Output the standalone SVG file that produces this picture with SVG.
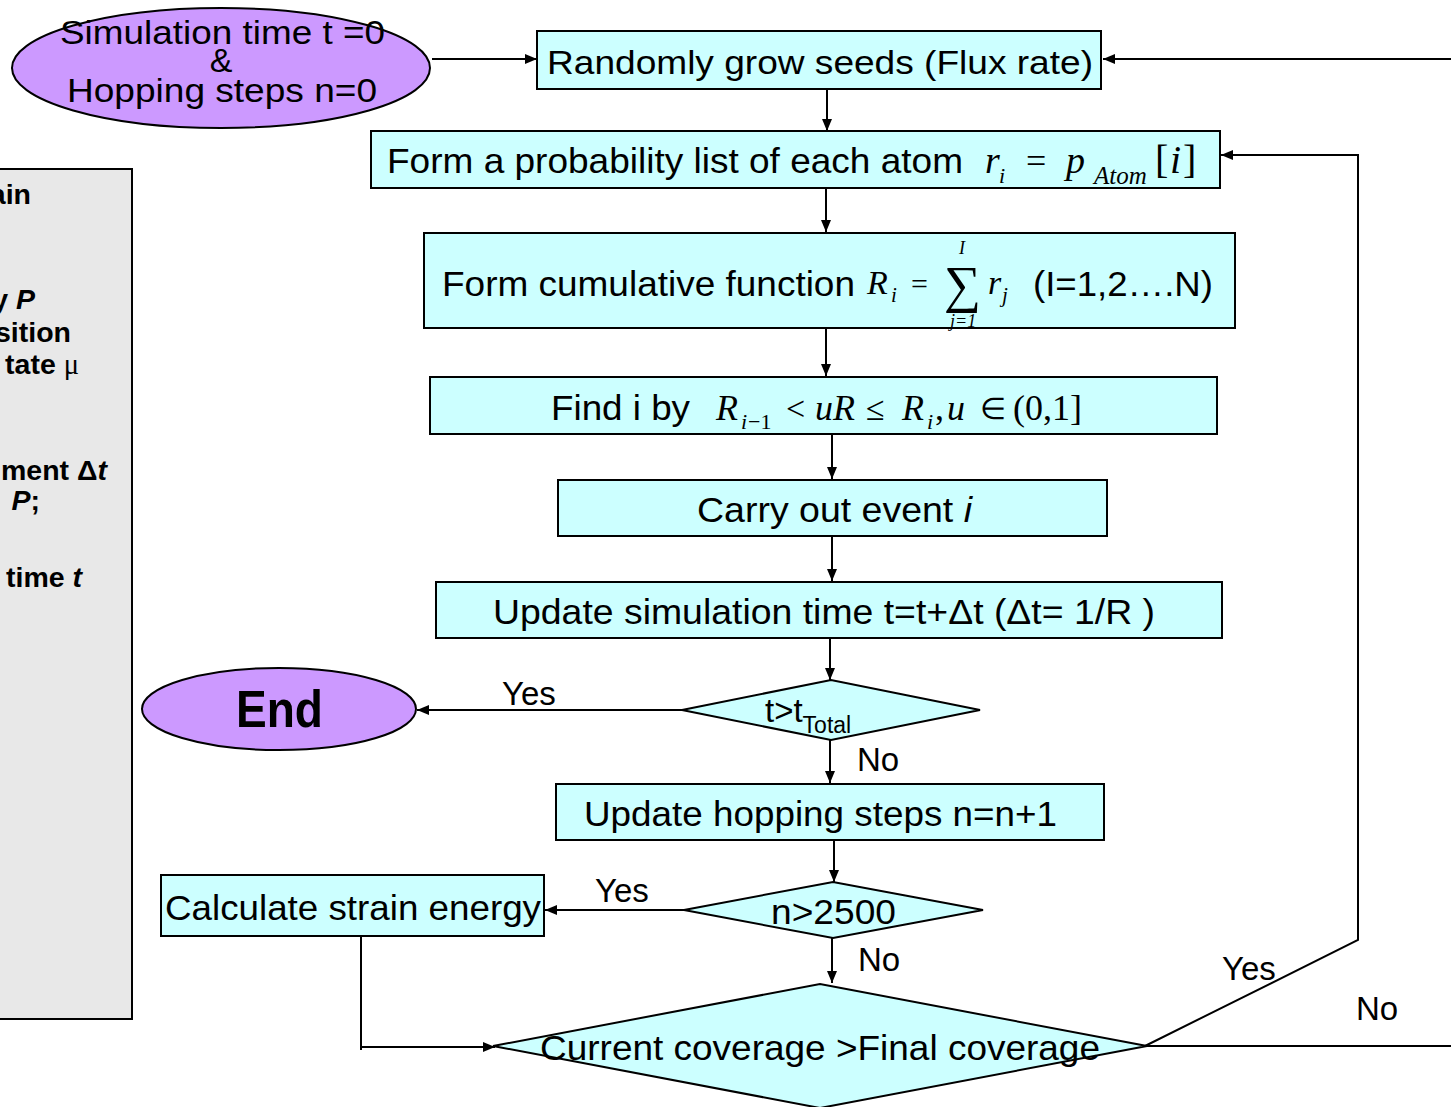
<svg xmlns="http://www.w3.org/2000/svg" width="1451" height="1107" viewBox="0 0 1451 1107">
<style>
.box{fill:#ccffff;stroke:#000;stroke-width:2}
.ell{fill:#cc99ff;stroke:#000;stroke-width:2}
.t{font-family:"Liberation Sans",Arial,sans-serif;font-size:34px;fill:#000}
.t35{font-size:35px}
.m{font-family:"Liberation Serif","Times New Roman",serif;font-style:italic;fill:#000}
.mr{font-family:"Liberation Serif","Times New Roman",serif;fill:#000}
.lbl{font-family:"Liberation Sans",Arial,sans-serif;font-size:33px;fill:#000}
.side{font-family:"Liberation Sans",Arial,sans-serif;font-size:28.5px;font-weight:bold;fill:#000}
.c{fill:none;stroke:#000;stroke-width:2}
</style>
<defs>
<marker id="ah" viewBox="0 0 12 10" refX="12" refY="5" markerWidth="12" markerHeight="10" markerUnits="userSpaceOnUse" orient="auto">
<path d="M0,0 L12,5 L0,10 Z" fill="#000"/>
</marker>
</defs>
<rect width="1451" height="1107" fill="#fff"/>

<g id="side-panel">
<rect x="-4" y="169" width="136" height="850" fill="#e8e8e8" stroke="#000" stroke-width="2"/>
<text class="side" x="31" y="204" text-anchor="end">ain</text>
<text class="side" x="35" y="309" text-anchor="end">y <tspan font-style="italic">P</tspan></text>
<text class="side" x="71" y="342" text-anchor="end">sition</text>
<text class="side" x="79" y="374" text-anchor="end">tate <tspan font-weight="normal" font-family="Liberation Serif,serif">μ</tspan></text>
<text class="side" x="107" y="480" text-anchor="end">ment Δ<tspan font-style="italic">t</tspan></text>
<text class="side" x="40" y="510" text-anchor="end"><tspan font-style="italic">P</tspan>;</text>
<text class="side" x="82" y="587" text-anchor="end">time <tspan font-style="italic">t</tspan></text>
</g>

<g id="connectors">
<line class="c" x1="432" y1="59" x2="537" y2="59" marker-end="url(#ah)"/>
<line class="c" x1="1451" y1="59" x2="1103" y2="59" marker-end="url(#ah)"/>
<line class="c" x1="827" y1="89" x2="827" y2="131" marker-end="url(#ah)"/>
<line class="c" x1="826" y1="188" x2="826" y2="232" marker-end="url(#ah)"/>
<line class="c" x1="826" y1="328" x2="826" y2="376" marker-end="url(#ah)"/>
<line class="c" x1="832" y1="434" x2="832" y2="479" marker-end="url(#ah)"/>
<line class="c" x1="832" y1="536" x2="832" y2="581" marker-end="url(#ah)"/>
<line class="c" x1="830" y1="638" x2="830" y2="680" marker-end="url(#ah)"/>
<line class="c" x1="682" y1="710" x2="417" y2="710" marker-end="url(#ah)"/>
<line class="c" x1="830" y1="740" x2="830" y2="783" marker-end="url(#ah)"/>
<line class="c" x1="834" y1="840" x2="834" y2="882" marker-end="url(#ah)"/>
<line class="c" x1="684" y1="910" x2="545" y2="910" marker-end="url(#ah)"/>
<line class="c" x1="832" y1="938" x2="832" y2="983" marker-end="url(#ah)"/>
<polyline class="c" points="361,936 361,1050"/>
<line class="c" x1="361" y1="1047" x2="495" y2="1047" marker-end="url(#ah)"/>
<polyline class="c" points="1145,1046 1358,940 1358,155 1221,155" marker-end="url(#ah)"/>
<line class="c" x1="1147" y1="1046" x2="1451" y2="1046"/>
<text class="lbl" x="502" y="705">Yes</text>
<text class="lbl" x="857" y="771">No</text>
<text class="lbl" x="595" y="902">Yes</text>
<text class="lbl" x="858" y="971">No</text>
<text class="lbl" x="1222" y="980">Yes</text>
<text class="lbl" x="1356" y="1020">No</text>
</g>

<g id="start">
<ellipse class="ell" cx="221" cy="68" rx="209" ry="60"/>
<text class="t" x="60" y="44" textLength="325" lengthAdjust="spacingAndGlyphs">Simulation time t =0</text>
<text class="t" x="221" y="72" text-anchor="middle">&amp;</text>
<text class="t" x="67" y="102" textLength="310" lengthAdjust="spacingAndGlyphs">Hopping steps n=0</text>
</g>

<g id="grow-seeds">
<rect class="box" x="537" y="31" width="564" height="58"/>
<text class="t" x="547" y="74" textLength="546" lengthAdjust="spacingAndGlyphs">Randomly grow seeds (Flux rate)</text>
</g>

<g id="prob-list">
<rect class="box" x="371" y="131" width="849" height="57"/>
<text class="t t35" x="387" y="173" textLength="576" lengthAdjust="spacingAndGlyphs">Form a probability list of each atom</text>
<text class="m" x="985" y="173" font-size="38">r</text>
<text class="m" x="999" y="183" font-size="22">i</text>
<text class="mr" x="1026" y="173" font-size="36">=</text>
<text class="m" x="1066" y="173" font-size="38">p</text>
<text class="m" x="1094" y="184" font-size="25">Atom</text>
<text class="mr" x="1155" y="173" font-size="40">[</text>
<text class="m" x="1170" y="173" font-size="40">i</text>
<text class="mr" x="1183" y="173" font-size="40">]</text>
</g>

<g id="cumulative">
<rect class="box" x="424" y="233" width="811" height="95"/>
<text class="t t35" x="442" y="296" textLength="413" lengthAdjust="spacingAndGlyphs">Form cumulative function</text>
<text class="m" x="867" y="294" font-size="34">R</text>
<text class="m" x="891" y="302" font-size="21">i</text>
<text class="mr" x="911" y="294" font-size="30">=</text>
<text class="mr" x="944" y="302" font-size="52">∑</text>
<text class="m" x="959" y="254" font-size="18">I</text>
<text class="m" x="950" y="327" font-size="18">j=1</text>
<text class="m" x="988" y="294" font-size="34">r</text>
<text class="m" x="1002" y="302" font-size="21">j</text>
<text class="t t35" x="1033" y="296" textLength="180" lengthAdjust="spacingAndGlyphs">(I=1,2….N)</text>
</g>

<g id="find-i">
<rect class="box" x="430" y="377" width="787" height="57"/>
<text class="t t35" x="551" y="420" textLength="139" lengthAdjust="spacingAndGlyphs">Find i by</text>
<text class="m" x="716" y="420" font-size="36">R</text>
<text class="m" x="741" y="429" font-size="22">i</text>
<text class="mr" x="748" y="429" font-size="22">−1</text>
<text class="mr" x="786" y="420" font-size="34">&lt;</text>
<text class="m" x="815" y="420" font-size="36">uR</text>
<text class="mr" x="866" y="420" font-size="34">≤</text>
<text class="m" x="902" y="420" font-size="36">R</text>
<text class="m" x="927" y="429" font-size="22">i</text>
<text class="mr" x="935" y="420" font-size="36">,</text>
<text class="m" x="947" y="420" font-size="36">u</text>
<text class="mr" x="980" y="419" font-size="30">∈</text>
<text class="mr" x="1013" y="420" font-size="36">(0,1]</text>
</g>

<g id="carry-out">
<rect class="box" x="558" y="480" width="549" height="56"/>
<text class="t t35" x="697" y="522" textLength="275" lengthAdjust="spacingAndGlyphs">Carry out event <tspan font-style="italic">i</tspan></text>
</g>

<g id="update-time">
<rect class="box" x="436" y="582" width="786" height="56"/>
<text class="t t35" x="493" y="624" textLength="662" lengthAdjust="spacingAndGlyphs">Update simulation time  t=t+Δt (Δt= 1/R )</text>
</g>

<g id="time-check">
<polygon class="box" points="682,710 831,680 980,710 831,740"/>
<text class="t" x="765" y="722" style="font-size:33px">t&gt;t<tspan style="font-size:23px" dy="11">Total</tspan></text>
</g>

<g id="end">
<ellipse class="ell" cx="279" cy="709" rx="137" ry="41"/>
<text class="t" x="236" y="727" style="font-size:52px;font-weight:bold" textLength="87" lengthAdjust="spacingAndGlyphs">End</text>
</g>

<g id="update-hop">
<rect class="box" x="556" y="784" width="548" height="56"/>
<text class="t t35" x="584" y="826" textLength="473" lengthAdjust="spacingAndGlyphs">Update hopping steps n=n+1</text>
</g>

<g id="hop-check">
<polygon class="box" points="684,910 833,882 983,910 833,938"/>
<text class="t t35" x="771" y="924" textLength="125" lengthAdjust="spacingAndGlyphs">n&gt;2500</text>
</g>

<g id="strain">
<rect class="box" x="161" y="875" width="383" height="61"/>
<text class="t t35" x="165" y="920" textLength="376" lengthAdjust="spacingAndGlyphs">Calculate strain energy</text>
</g>

<g id="coverage-check">
<polygon class="box" points="493,1046 820,984 1147,1046 820,1108"/>
<text class="t t35" x="540" y="1060" textLength="560" lengthAdjust="spacingAndGlyphs">Current coverage &gt;Final coverage</text>
</g>
</svg>
